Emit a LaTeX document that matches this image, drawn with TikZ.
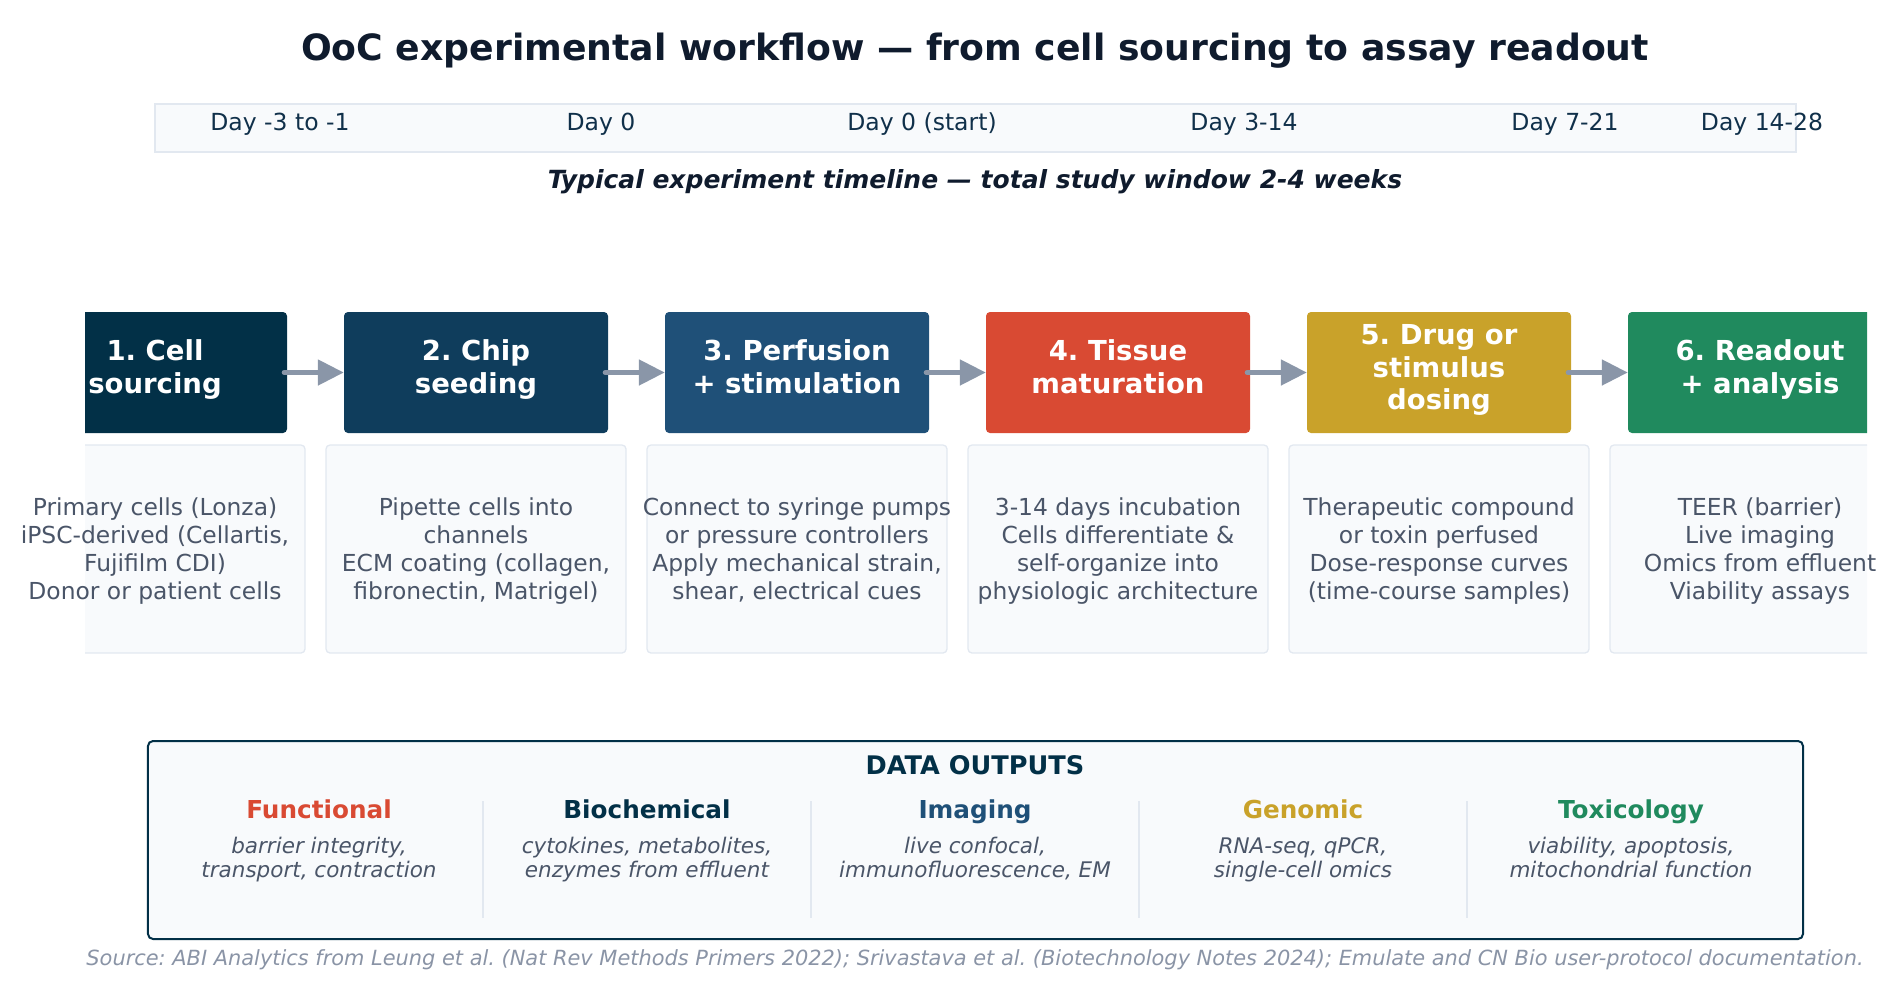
\documentclass[tikz,border=0pt]{standalone}
\usepackage{fontspec}
\setmainfont{DejaVu Sans}
\usetikzlibrary{arrows.meta}
\frenchspacing
\newcommand{\fsz}[2]{\fontsize{#1bp}{#2bp}\selectfont}
\definecolor{cnavy}{HTML}{023047}
\definecolor{cnavyb}{HTML}{0F3D5C}
\definecolor{cblue}{HTML}{1F5078}
\definecolor{cred}{HTML}{D94A33}
\definecolor{cgold}{HTML}{C9A22A}
\definecolor{cgreen}{HTML}{208A5E}
\definecolor{carrow}{HTML}{8A96A8}
\definecolor{ctitle}{HTML}{0F1B2D}
\definecolor{cday}{HTML}{10304A}
\definecolor{cdesc}{HTML}{4A5568}
\definecolor{csrc}{HTML}{8A94A6}
\definecolor{lightf}{HTML}{F8FAFC}
\definecolor{lightb}{HTML}{E2E8F0}
\tikzset{
  stepbox/.style={rounded corners=4bp, minimum width=264bp, minimum height=121bp, inner sep=0pt,
    text=white, align=center, font=\fsz{27.5}{32.5}\bfseries},
  descbox/.style={rounded corners=4bp, fill=lightf, draw=lightb, line width=1.3bp,
    minimum width=300bp, minimum height=208bp, inner sep=0pt},
  desctext/.style={align=center, inner sep=0pt, text=cdesc, font=\fsz{23.4}{27.7}},
  daylbl/.style={anchor=base, inner sep=0pt, text=cday, font=\fsz{23.5}{28}},
  flow/.style={draw=carrow, line width=5bp, line cap=round, shorten <=-3bp,
    -{Triangle[length=26bp, width=25bp]}},
  cathead/.style={anchor=base, inner sep=0pt, font=\fsz{24.7}{30}\bfseries},
  cattext/.style={align=center, inner sep=0pt, text=cdesc, font=\fsz{21.5}{24.5}\itshape},
  sepline/.style={draw=lightb, line width=1.3bp}
}
\begin{document}
\begin{tikzpicture}[x=1bp, y=-1bp]
\useasboundingbox (0,0) rectangle (1897,994);
% title
\node[anchor=base, inner sep=0pt, text=ctitle, font=\fsz{36.2}{42}\bfseries] (title) at (975,60)
  {OoC experimental workflow — from cell sourcing to assay readout};
% timeline bar
\node[draw=lightb, fill=lightf, line width=1.5bp, minimum width=1641bp, minimum height=48bp, inner sep=0pt] (timeline) at (975.5,128) {};
\node[daylbl] (d1) at (280,130) {Day -3 to -1};
\node[daylbl] (d2) at (601,130) {Day 0};
\node[daylbl] (d3) at (922,130) {Day 0 (start)};
\node[daylbl] (d4) at (1244,130) {Day 3-14};
\node[daylbl] (d5) at (1565,130) {Day 7-21};
\node[daylbl] (d6) at (1762,130) {Day 14-28};
\node[anchor=base, inner sep=0pt, text=ctitle, font=\fsz{25}{30}\bfseries\itshape] (sub) at (975,188)
  {Typical experiment timeline — total study window 2-4 weeks};
% steps
\begin{scope}
\clip (85,0) rectangle (1867,994);
\node[stepbox, fill=cnavy] (s1) at (155,372.5) {};
\node[stepbox, fill=cnavyb] (s2) at (476,372.5) {};
\node[stepbox, fill=cblue] (s3) at (797,372.5) {};
\node[stepbox, fill=cred] (s4) at (1118,372.5) {};
\node[stepbox, fill=cgold] (s5) at (1439,372.5) {};
\node[stepbox, fill=cgreen] (s6) at (1760,372.5) {};
\node[stepbox, minimum width=0pt, minimum height=0pt] (t1) at (155,370.5) {\strut 1. Cell\\\strut sourcing};
\node[stepbox, minimum width=0pt, minimum height=0pt] (t2) at (476,370.5) {\strut 2. Chip\\\strut seeding};
\node[stepbox, minimum width=0pt, minimum height=0pt] (t3) at (797,370.5) {\strut 3. Perfusion\\\strut + stimulation};
\node[stepbox, minimum width=0pt, minimum height=0pt] (t4) at (1118,370.5) {\strut 4. Tissue\\\strut maturation};
\node[stepbox, minimum width=0pt, minimum height=0pt] (t5) at (1439,370.5) {\strut 5. Drug or\\\strut stimulus\\\strut dosing};
\node[stepbox, minimum width=0pt, minimum height=0pt] (t6) at (1760,370.5) {\strut 6. Readout\\\strut + analysis};
\draw[flow] (s1.east) -- (s2.west);
\draw[flow] (s2.east) -- (s3.west);
\draw[flow] (s3.east) -- (s4.west);
\draw[flow] (s4.east) -- (s5.west);
\draw[flow] (s5.east) -- (s6.west);
\node[descbox] (b1) at (155,549) {};
\node[descbox] (b2) at (476,549) {};
\node[descbox] (b3) at (797,549) {};
\node[descbox] (b4) at (1118,549) {};
\node[descbox] (b5) at (1439,549) {};
\node[descbox] (b6) at (1760,549) {};
\end{scope}
\node[desctext] (x1) at (155,552) {\strut Primary cells (Lonza)\\\strut iPSC-derived (Cellartis,\\\strut Fujifilm CDI)\\\strut Donor or patient cells};
\node[desctext] (x2) at (476,552) {\strut Pipette cells into\\\strut channels\\\strut ECM coating (collagen,\\\strut fibronectin, Matrigel)};
\node[desctext] (x3) at (797,552) {\strut Connect to syringe pumps\\\strut or pressure controllers\\\strut Apply mechanical strain,\\\strut shear, electrical cues};
\node[desctext] (x4) at (1118,552) {\strut 3-14 days incubation\\\strut Cells differentiate \&\\\strut self-organize into\\\strut physiologic architecture};
\node[desctext] (x5) at (1439,552) {\strut Therapeutic compound\\\strut or toxin perfused\\\strut Dose-response curves\\\strut (time-course samples)};
\node[desctext] (x6) at (1760,552) {\strut TEER (barrier)\\\strut Live imaging\\\strut Omics from effluent\\\strut Viability assays};
% data outputs
\node[draw=cnavy, fill=lightf, line width=2bp, rounded corners=5bp, minimum width=1655bp, minimum height=198bp, inner sep=0pt] (out) at (975.5,840) {};
\node[anchor=base, inner sep=0pt, text=cnavy, font=\fsz{25.6}{30}\bfseries] (outh) at (975,774) {DATA OUTPUTS};
\node[cathead, text=cred] (c1) at (319,818) {Functional};
\node[cathead, text=cnavy] (c2) at (647,818) {Biochemical};
\node[cathead, text=cblue] (c3) at (975,818) {Imaging};
\node[cathead, text=cgold] (c4) at (1303,818) {Genomic};
\node[cathead, text=cgreen] (c5) at (1631,818) {Toxicology};
\node[cattext] (e1) at (319,860.5) {\strut barrier integrity,\\\strut transport, contraction};
\node[cattext] (e2) at (647,860.5) {\strut cytokines, metabolites,\\\strut enzymes from effluent};
\node[cattext] (e3) at (975,860.5) {\strut live confocal,\\\strut immunofluorescence, EM};
\node[cattext] (e4) at (1303,860.5) {\strut RNA-seq, qPCR,\\\strut single-cell omics};
\node[cattext] (e5) at (1631,860.5) {\strut viability, apoptosis,\\\strut mitochondrial function};
\draw[sepline] (483,801) -- (483,918);
\draw[sepline] (811,801) -- (811,918);
\draw[sepline] (1139,801) -- (1139,918);
\draw[sepline] (1467,801) -- (1467,918);
% source
\node[anchor=base, inner sep=0pt, text=csrc, font=\fsz{20.9}{25}\itshape] (src) at (975,965)
  {Source: ABI Analytics from Leung et al. (Nat Rev Methods Primers 2022); Srivastava et al. (Biotechnology Notes 2024); Emulate and CN Bio user-protocol documentation.};
\end{tikzpicture}
\end{document}
